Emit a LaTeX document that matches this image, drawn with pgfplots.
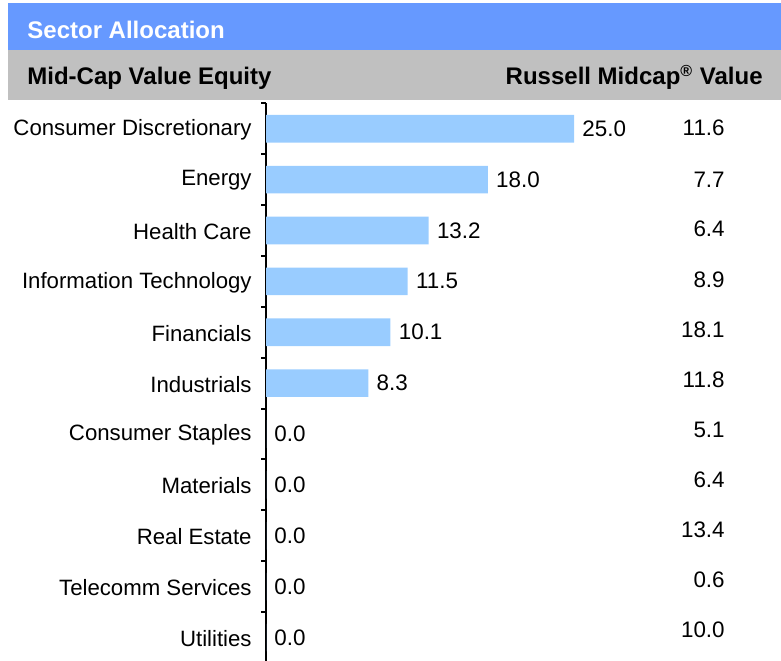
\documentclass[border=0pt]{standalone}
\usepackage{pgfplots}
\pgfplotsset{compat=1.18}
\usepackage{fontspec}
\setmainfont{Liberation Sans}
\definecolor{hdrblue}{HTML}{6699FF}
\definecolor{hdrgray}{HTML}{C0C0C0}
\definecolor{barblue}{HTML}{99CCFF}
\begin{document}
\begin{tikzpicture}
\fill[hdrblue] (4pt,305pt) rectangle (390.5pt,328.5pt);
\fill[hdrgray] (4pt,280pt) rectangle (390.5pt,305pt);
\node[anchor=base west,inner sep=0pt,text=white,font=\fontsize{12}{14}\selectfont\bfseries] at (13.5pt,310.8pt) {Sector Allocation};
\node[anchor=base west,inner sep=0pt,font=\fontsize{12}{14}\selectfont\bfseries] at (13.5pt,287.5pt) {Mid-Cap Value Equity};
\node[anchor=base east,inner sep=0pt,font=\fontsize{12}{14}\selectfont\bfseries] at (381.5pt,287.5pt) {Russell Midcap\textsuperscript{®} Value};
\begin{axis}[
  at={(133pt,-1.5pt)}, anchor=south west,
  scale only axis, width=257.5pt, height=279.85pt,
  xmin=0, xmax=41.8, ymin=0.5, ymax=11.5, y dir=reverse,
  axis y line*=left, axis x line=none,
  xtick=\empty,
  ytick={1,...,11},
  yticklabels={Consumer Discretionary,Energy,Health Care,Information Technology,Financials,Industrials,Consumer Staples,Materials,Real Estate,Telecomm Services,Utilities},
  minor ytick={0.5,1.5,...,11.5},
  major tick length=0pt, minor tick length=2.5pt,
  tick align=outside,
  every y tick/.style={black, line width=1pt},
  every minor y tick/.style={black, line width=1pt},
  y axis line style={line width=1pt},
  yticklabel style={anchor=east, inner sep=0pt, xshift=-7pt, yshift=-0.5pt, font=\fontsize{11.1}{13}\selectfont},
  clip=false,
  /pgf/number format/assume math mode=true,
  nodes near coords style={font=\fontsize{11.2}{13}\selectfont, inner sep=0pt},
]
\addplot[xbar, bar width=13.8pt, fill=barblue, draw=none,
  nodes near coords={\pgfmathprintnumber[fixed,fixed zerofill,precision=1]{\pgfplotspointmeta}},
  nodes near coords style={anchor=west, xshift=4pt}]
  coordinates {(25.0,1) (18.0,2) (13.2,3) (11.5,4) (10.1,5) (8.3,6) (0.0,7) (0.0,8) (0.0,9) (0.0,10) (0.0,11)};
\addplot[draw=none, mark=none, point meta=explicit,
  nodes near coords={\pgfmathprintnumber[fixed,fixed zerofill,precision=1]{\pgfplotspointmeta}},
  nodes near coords style={anchor=east}]
  coordinates {(37.26,0.985) [11.6] (37.26,2.007) [7.7] (37.26,2.97) [6.4] (37.26,3.97) [8.9] (37.26,4.95) [18.1] (37.26,5.93) [11.8] (37.26,6.91) [5.1] (37.26,7.89) [6.4] (37.26,8.88) [13.4] (37.26,9.86) [0.6] (37.26,10.84) [10.0]};
\end{axis}
\pgfresetboundingbox
\useasboundingbox (0,0) rectangle (390.5pt,330pt);
\end{tikzpicture}
\end{document}
